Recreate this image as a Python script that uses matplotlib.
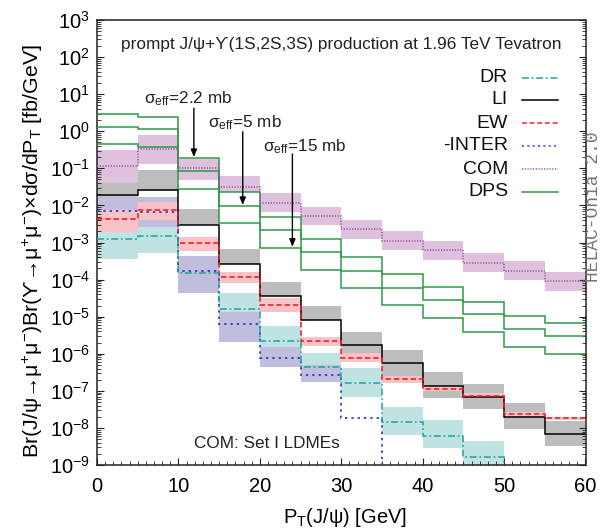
import numpy as np
import matplotlib
matplotlib.use("Agg")
import matplotlib.pyplot as plt
from matplotlib.lines import Line2D
from matplotlib.ticker import LogLocator, MultipleLocator, NullFormatter

plt.rcParams["font.family"] = ["Liberation Sans", "DejaVu Sans"]
plt.rcParams["mathtext.fontset"] = "custom"
plt.rcParams["mathtext.rm"] = "Liberation Sans"
plt.rcParams["mathtext.it"] = "Liberation Sans:italic"
plt.rcParams["mathtext.bf"] = "Liberation Sans:bold"
plt.rcParams["mathtext.sf"] = "Liberation Sans"
plt.rcParams["mathtext.default"] = "regular"

# pT bins [GeV]
pt_edges = [0, 5, 10, 15, 20, 25, 30, 35, 40, 45, 50, 55, 60]

# dsigma/dPT [fb/GeV]; 0 means no contribution in that bin
dr = [1.23e-3, 1.48e-3, 1.48e-4, 1.62e-5, 2.24e-6, 4.3e-7, 1.66e-7, 1.48e-8, 6.2e-9, 1.66e-9, 0, 0]
dr_hi = [2.4e-3, 2.7e-3, 3.2e-4, 4.3e-5, 5.6e-6, 1.02e-6, 4.1e-7, 3.7e-8, 1.6e-8, 4.5e-9, np.nan, np.nan]
dr_lo = [3.7e-4, 5.1e-4, 7.1e-5, 7.9e-6, 1.1e-6, 3.5e-7, 6.9e-8, 6.5e-9, 2.8e-9, 8.9e-10, np.nan, np.nan]

li = [1.9e-2, 2.6e-2, 2.9e-3, 2.63e-4, 3.67e-5, 8.1e-6, 1.72e-6, 5.5e-7, 1.38e-7, 6.7e-8, 2.0e-8, 6.8e-9]
li_hi = [6.6e-2, 9.0e-2, 7.9e-3, 6.7e-4, 8.5e-5, 1.94e-5, 3.9e-6, 1.26e-6, 3.3e-7, 1.5e-7, 4.6e-8, 1.53e-8]
li_lo = [1.8e-2, 2.5e-2, 2.9e-3, 2.63e-4, 3.67e-5, 8.1e-6, 1.02e-6, 2.4e-7, 6.3e-8, 3.2e-8, 9.5e-9, 3.2e-9]

ew = [4.3e-3, 7.5e-3, 9.5e-4, 1.2e-4, 2.06e-5, 2.24e-6, 7.9e-7, 2.04e-7, 1.15e-7, 7.4e-8, 2.4e-8, 1.82e-8]
ew_hi = [7.6e-3, 1.26e-2, 1.45e-3, 1.63e-4, 3.2e-5, 2.75e-6, 1.02e-6, 2.5e-7, 1.35e-7, 8.5e-8, 2.75e-8, 2.0e-8]
ew_lo = [1.95e-3, 4.1e-3, 6.0e-4, 7.9e-5, 1.35e-5, 1.66e-6, 6.1e-7, 1.66e-7, 1.0e-7, 6.3e-8, 2.1e-8, 1.62e-8]

inter = [7.1e-3, 6.8e-3, 1.74e-4, 6.5e-6, 7.8e-7, 2.7e-7, 1.9e-8, 0, 0, 0, 0, 0]
inter_hi = [1.83e-2, 1.72e-2, 4.3e-4, 1.36e-5, 1.48e-6, 5.0e-7, np.nan, np.nan, np.nan, np.nan, np.nan, np.nan]
inter_lo = [2.8e-3, 2.7e-3, 4.3e-5, 2.1e-6, 4.5e-7, 1.76e-7, np.nan, np.nan, np.nan, np.nan, np.nan, np.nan]

com = [0.116, 0.326, 0.10, 3.2e-2, 1.18e-2, 5.2e-3, 2.26e-3, 1.12e-3, 6.3e-4, 2.85e-4, 1.74e-4, 9.1e-5]
com_hi = [0.31, 0.78, 0.178, 6.3e-2, 2.1e-2, 9.2e-3, 4.0e-3, 2.04e-3, 1.1e-3, 5.1e-4, 3.2e-4, 1.62e-4]
com_lo = [4.1e-2, 0.134, 4.8e-2, 2.34e-2, 6.8e-3, 2.95e-3, 1.24e-3, 6.3e-4, 3.4e-4, 1.62e-4, 9.8e-5, 5.0e-5]

dps_22 = [2.92, 2.47, 0.186, 2.34e-2, 4.8e-3, 1.24e-3, 4.0e-4, 1.39e-4, 6.5e-5, 2.5e-5, 1.02e-5, 6.9e-6]
dps_5 = [1.33, 1.13, 8.5e-2, 9.8e-3, 2.17e-3, 5.4e-4, 1.74e-4, 6.1e-5, 2.8e-5, 1.15e-5, 4.6e-6, 3.0e-6]
dps_15 = [0.445, 0.383, 2.77e-2, 3.3e-3, 7.2e-4, 1.81e-4, 5.8e-5, 2.04e-5, 9.3e-6, 3.8e-6, 1.51e-6, 1.0e-6]

# arrows pointing at the DPS curves: (pT, label y, tip y)
sigma_labels = ["σ$_{\\mathrm{eff}}$=2.2 mb", "σ$_{\\mathrm{eff}}$=5 mb", "σ$_{\\mathrm{eff}}$=15 mb"]
sigma_text_pos = [(5.8, 7.4), (13.6, 1.67), (20.4, 0.376)]
sigma_arrows = [(11.9, 4.2, 0.2), (17.9, 0.97, 0.0102), (24.0, 0.243, 7.6e-4)]

C_DR, B_DR = "#22a0a4", "#bfe2e3"
C_LI, B_LI = "#000000", "#bdbdbd"
C_EW, B_EW = "#ee2228", "#f8c2c6"
C_IN, B_IN = "#3040c0", "#c1bddd"
C_CO, B_CO = "#9a50a8", "#dec1dd"
C_DPS = "#2f9848"

LS_DR = (0, (4.5, 1.8, 1.2, 1.8))
LS_EW = (0, (3.2, 1.8))
LS_IN = (0, (1.3, 2.2))
LS_CO = (0, (0.8, 1.0))

fig = plt.figure(figsize=(6.04, 5.32), dpi=100)
ax = fig.add_axes([97 / 604, 1 - 465 / 532, 488.5 / 604, 445 / 532])

edges = np.array(pt_edges, dtype=float)
widths = np.diff(edges)


def band(lo, hi, color):
    lo = np.array(lo, dtype=float)
    hi = np.array(hi, dtype=float)
    ax.bar(edges[:-1], hi - lo, bottom=lo, width=widths, align="edge",
           color=color, linewidth=0, zorder=1)


def curve(vals, color, ls, lw=1.1):
    v = np.array(vals, dtype=float)
    v = np.where(v > 0, v, 1e-30)
    ax.stairs(v, edges, baseline=None, color=color, linestyle=ls, linewidth=lw, zorder=3)


band(li_lo, li_hi, B_LI)
band(dr_lo, dr_hi, B_DR)
band(inter_lo, inter_hi, B_IN)
band(ew_lo, ew_hi, B_EW)
band(com_lo, com_hi, B_CO)

for d in (dps_22, dps_5, dps_15):
    curve(d, C_DPS, "-", 1.1)
curve(com, C_CO, LS_CO, 1.1)
curve(li, C_LI, "-", 1.1)
curve(ew, C_EW, LS_EW, 1.2)
curve(inter, C_IN, LS_IN, 1.3)
curve(dr, C_DR, LS_DR, 1.1)

ax.set_xlim(0, 60)
ax.set_yscale("log")
ax.set_ylim(1e-9, 1e3)

ax.xaxis.set_major_locator(MultipleLocator(10))
ax.xaxis.set_minor_locator(MultipleLocator(1))
ax.yaxis.set_major_locator(LogLocator(base=10, numticks=20))
ax.yaxis.set_minor_locator(LogLocator(base=10, subs=np.arange(2, 10), numticks=200))
ax.yaxis.set_minor_formatter(NullFormatter())
ax.tick_params(axis="both", which="both", direction="in", labelsize=14.5, color="#222222")
ax.tick_params(axis="y", which="both", right=True)
ax.tick_params(axis="x", which="both", top=False)
ax.tick_params(which="major", length=5, width=0.8)
ax.tick_params(which="minor", length=3, width=0.6)
ax.tick_params(axis="x", pad=9)
ax.tick_params(axis="y", pad=5)
for s in ax.spines.values():
    s.set_linewidth(1.1)
    s.set_color("#222222")

ax.set_xlabel("P$_{\\mathrm{T}}$(J/ψ) [GeV]", fontsize=14.5)
ax.xaxis.label.set_va("center")
ax.xaxis.set_label_coords(0.507, -0.118)
ax.set_ylabel("Br(J/ψ→μ$^{+}$μ$^{-}$)Br(ϒ→μ$^{+}$μ$^{-}$)×dσ/dP$_{\\mathrm{T}}$ [fb/GeV]",
              fontsize=15.4)
ax.yaxis.set_label_coords(-0.106, 0.48)

ax.text(0.5, 0.944, "prompt J/ψ+ϒ(1S,2S,3S) production at 1.96 TeV Tevatron",
        transform=ax.transAxes, ha="center", va="center", fontsize=12.45, color="#222222")
ax.text(0.1986, 0.049, "COM: Set I LDMEs", transform=ax.transAxes,
        ha="left", va="center", fontsize=12.3, color="#222222")

for lab, (tx, ty) in zip(sigma_labels, sigma_text_pos):
    ax.text(tx, ty, lab, ha="left", va="center", fontsize=12.3, color="#222222")
for x, y0, y1 in sigma_arrows:
    ax.annotate("", xy=(x, y1), xytext=(x, y0),
                arrowprops=dict(arrowstyle="-|>,head_length=0.45,head_width=0.18",
                                color="black", lw=1.0, shrinkA=0, shrinkB=0), zorder=5)

# legend: right-aligned labels with line samples on the right
leg_labels = ["DR", "LI", "EW", "-INTER", "COM", "DPS"]
leg_styles = [(C_DR, LS_DR), (C_LI, "-"), (C_EW, LS_EW), (C_IN, LS_IN), (C_CO, LS_CO), (C_DPS, "-")]
leg_y = [78, 100, 123, 146, 169, 192]
for lab, (c, ls), py in zip(leg_labels, leg_styles, leg_y):
    ya = (465 - py) / 445
    ax.text((508 - 97) / 488.5, ya, lab, transform=ax.transAxes, ha="right", va="center",
            fontsize=14, color="#111111")
    ax.add_line(Line2D([(522 - 97) / 488.5, (558 - 97) / 488.5], [ya, ya],
                       transform=ax.transAxes, color=c, linestyle=ls, linewidth=1.1))

fig.text(594 / 604, 1 - 207 / 532, "HELAC-Onia 2.0", rotation=90, ha="center", va="center",
         fontsize=13, family="Liberation Mono", color="#777777")

fig.savefig("out.png", dpi=100)
